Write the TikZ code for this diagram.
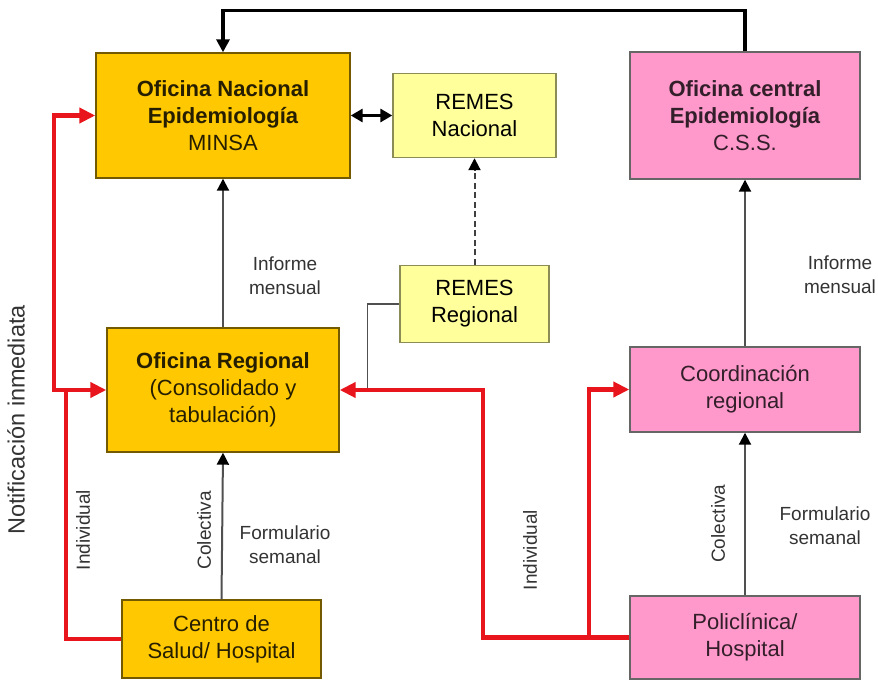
\documentclass[tikz,border=0pt]{standalone}
\usepackage{fontspec}
\setmainfont{Liberation Sans}
\usetikzlibrary{arrows.meta,calc}
\definecolor{oro}{HTML}{FFC800}
\definecolor{remesfill}{HTML}{FFFF9C}
\definecolor{rosa}{HTML}{FF99CC}
\definecolor{rojo}{HTML}{E8161C}
\definecolor{gris}{HTML}{505050}
\tikzset{
  caja/.style={draw, line width=1.4pt, align=center, inner sep=2pt,
    font=\fontsize{22}{27}\selectfont},
  minsa/.style={caja, fill=oro, draw=black!55!oro, text=black!85!oro},
  remes/.style={caja, fill=remesfill, draw=black!45!remesfill},
  css/.style={caja, fill=rosa, draw=black!60, text=black!80!rosa},
  etiq/.style={font=\fontsize{19}{24}\selectfont, text=black!80, align=center, inner sep=0pt},
  flujo/.style={draw=gris, line width=2pt, -{Triangle[length=12pt,width=12pt,color=black]}},
  notif/.style={draw=rojo, line width=4.2pt, -{Triangle[length=16pt,width=15pt]}},
  enlace/.style={draw=black, line width=3.5pt}
}
\begin{document}
\begin{tikzpicture}[x=1pt,y=-1pt]
\useasboundingbox (0,0) rectangle (878,682);
% cajas
\node[minsa, minimum width=254pt, minimum height=125pt] (ONE) at (223,115.5)
  {\textbf{Oficina Nacional}\\\textbf{Epidemiología}\\MINSA};
\node[remes, minimum width=163pt, minimum height=84pt] (RN) [right of=ONE, node distance=251.5pt]
  {REMES\\Nacional};
\node[css, minimum width=230pt, minimum height=127pt] (OCE) [right of=ONE, node distance=522pt]
  {\textbf{Oficina central}\\\textbf{Epidemiología}\\C.S.S.};
\node[remes, minimum width=149pt, minimum height=77pt] (RR) [below of=RN, node distance=188.5pt]
  {REMES\\Regional};
\node[minsa, minimum width=232pt, minimum height=124pt] (ORg) [below of=ONE, node distance=274.5pt]
  {\textbf{Oficina Regional}\\(Consolidado y\\tabulación)};
\node[minsa, minimum width=199pt, minimum height=78pt] (CS) [below of=ORg, node distance=249pt, xshift=-1.5pt]
  {Centro de\\Salud/ Hospital};
\node[css, minimum width=230pt, minimum height=85pt] (CR) [below of=OCE, node distance=274pt]
  {Coordinación\\regional};
\node[css, minimum width=230pt, minimum height=83pt] (PH) [below of=CR, node distance=248pt]
  {Policlínica/\\Hospital};
% flujos regulares
\path (ORg.north) edge[flujo] node[etiq, pos=0.35, xshift=62pt] (im1) {Informe\\mensual} (ONE.south)
      (CS.north)  edge[flujo] node[etiq, pos=0.47, xshift=-18pt, rotate=90] (col1) {Colectiva}
                              node[etiq, pos=0.37, xshift=63pt] (fs1) {Formulario\\semanal} (ORg.south)
      (CR.north)  edge[flujo] node[etiq, pos=0.43, xshift=95pt] (im2) {Informe\\mensual} (OCE.south)
      (PH.north)  edge[flujo] node[etiq, pos=0.44, xshift=-27pt, rotate=90] (col2) {Colectiva}
                              node[etiq, pos=0.43, xshift=80pt] (fs2) {Formulario\\semanal} (CR.south);
\draw[flujo, dash pattern=on 6pt off 3.5pt, draw=black!75] (RR.north) -- (RN.south);
\draw[enlace, {Triangle[length=12pt,width=13pt]}-{Triangle[length=12pt,width=13pt]}] (ONE.east) -- (RN.west);
\draw[enlace, -{Triangle[length=13pt,width=13pt]}] (OCE.north) -- ++(0,-41) -| (ONE.north);
\draw[draw=gris, line width=1.6pt] (RR.west) -| ++(-32,86);
% notificacion inmediata
\draw[notif] (CS.west) -- ++(-55,0) |- (ORg.west);
\draw[notif] (ORg.west) ++(-40,0) -- ++(-12,0) |- (ONE.west);
\draw[notif] (PH.west) -- ++(-146,0) |- (ORg.east);
\draw[notif] (PH.west) ++(-40,0) |- (CR.west);
\node[etiq, rotate=90] (ind1) at (83,530) {Individual};
\node[etiq, rotate=90] (ind2) at (530,550) {Individual};
\node[etiq, rotate=90, font=\fontsize{23.5}{28}\selectfont] (noti) at (16,420) {Notificación inmediata};
\end{tikzpicture}
\end{document}
